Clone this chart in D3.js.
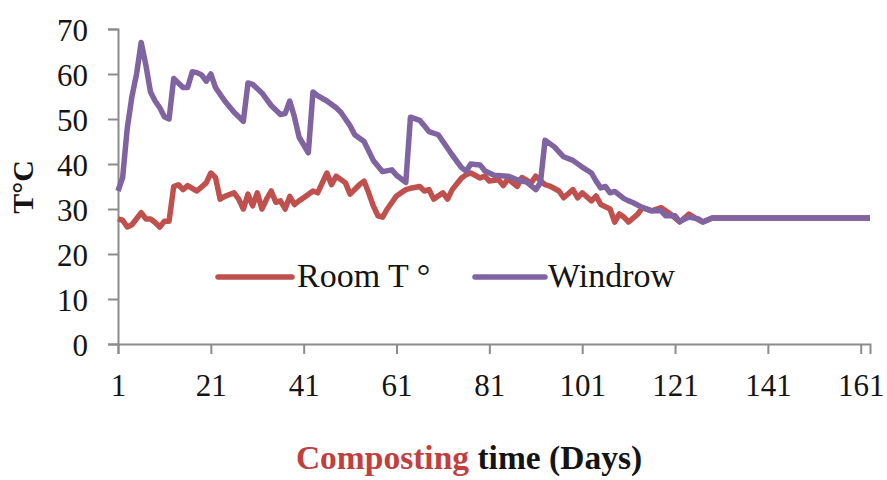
<!DOCTYPE html>
<html>
<head>
<meta charset="utf-8">
<script src="https://cdn.jsdelivr.net/npm/d3@7"></script>
<style>
  html, body { margin: 0; padding: 0; background: #fff; }
  svg text { font-family: "Liberation Serif", "Times New Roman", serif !important; }
</style>
</head>
<body>
<svg id="chart" width="887" height="480"></svg>
<script>
// Windrow pile temperature (°C) by composting day
const windrowDay = [1,2,3,4,5,6,7,8,9,10,11,12,13,14,15,16,17,18,19,20,21,22,24,26,28,29,30,32,34,36,37,38,39,40,42,43,44,46,48,49,51,52,54,56,58,60,61,63,64,66,67,68,70,71,73,75,76,77,79,80,82,85,87,89,91,92,93,95,97,99,101,103,104,105,106,107,108,110,111,112,114,116,118,119,121,122,124,126,127,129,163];
const windrowTemp = [34,37,48,55,60,67,62,56,54,52.5,50.5,50,59,58,57,57,60.5,60.3,59.8,58.4,60,57,54,51.5,49.5,58,57.7,55.8,53,51,51.2,54,50.5,46,42.5,56,55.2,54,52.5,51.5,48.5,46.5,45,40.8,38.3,38.7,37.5,35.9,50.4,49.7,48.5,47.2,46.5,45,42,39.2,38.4,40,39.8,38.5,37.5,37.3,36.5,36,34.3,35.8,45.3,43.8,41.6,40.8,39.3,38,36.2,34.7,35,33.6,33.9,32.3,31.8,31.4,30.3,29.6,29.6,28.5,28.5,27.2,28.2,27.8,27.1,28,28];

// Room temperature (°C) by composting day
const roomDay = [1,2,3,4,6,7,8,9,10,11,12,13,14,15,16,17,18,20,21,22,23,24,26,27,28,29,30,31,32,33,34,35,36,37,38,39,40,41,43,44,46,47,48,50,51,53,54,55,56,57,58,59,61,63,64,66,67,68,69,71,72,73,75,76,77,79,80,81,83,84,85,87,88,90,91,93,94,96,97,99,100,101,103,104,105,107,108,109,110,111,113,114,116,118,120,122,124,125,127,129,163];
const roomTemp = [27.8,27.5,26,26.5,29.2,27.8,27.8,27,26,27.3,27.3,35,35.4,34.3,35.2,34.6,34,35.8,38,37,32.2,32.8,33.6,32.2,30,33.3,30.7,33.6,30,32.2,34,31.5,31.8,30,32.8,31,31.8,32.5,34,33.6,38,35.4,37.3,35.8,33.3,35.4,36.2,33.6,30.7,28.5,28.2,30,32.9,34.3,34.6,35,34,34.3,32.2,33.6,32.2,34.3,36.9,37.6,38,36.9,37.3,36.2,36.5,35.2,36.7,35,37,35.8,37.3,35.4,35.1,34,32.5,34.3,32.5,33.6,31.8,32.9,31,30,27.1,28.9,28.2,27.1,28.9,30.3,29.6,30.3,28.9,27.1,28.9,28.2,27.1,28,28];

const xTicks = [1,21,41,61,81,101,121,141,161];
const yTicks = [0,10,20,30,40,50,60,70];

const seriesNames = ["Room T °", "Windrow"];
const seriesColors = ["#c0504d", "#8064a2"];

const svg = d3.select("#chart");
const W = 887, H = 480;
const margin = { left: 118, right: 17, top: 29, bottom: 136 };

const x = d3.scaleLinear().domain([1, 163]).range([margin.left, W - margin.right]);
const y = d3.scaleLinear().domain([0, 70]).range([H - margin.bottom, margin.top]);

const axisColor = "#8c8c8c";
const textColor = "#141414";

// Y axis
const yAxis = svg.append("g")
  .attr("transform", `translate(${margin.left},0)`)
  .call(d3.axisLeft(y).tickValues(yTicks).tickSize(10).tickPadding(20).tickFormat(d3.format("d")));
yAxis.select(".domain").attr("stroke", axisColor).attr("stroke-width", 2);
yAxis.selectAll(".tick line").attr("stroke", axisColor).attr("stroke-width", 2);
yAxis.selectAll(".tick text").attr("font-size", 31).attr("fill", textColor).attr("dy", "0.36em");

// X axis
const xAxis = svg.append("g")
  .attr("transform", `translate(0,${y(0)})`)
  .call(d3.axisBottom(x).tickValues(xTicks).tickSize(10).tickPadding(20).tickFormat(d3.format("d")));
xAxis.select(".domain").attr("stroke", axisColor).attr("stroke-width", 2);
xAxis.selectAll(".tick line").attr("stroke", axisColor).attr("stroke-width", 2);
xAxis.selectAll(".tick text").attr("font-size", 31).attr("fill", textColor);

// Temperature lines (room first, windrow drawn over it)
const line = d3.line().x(d => x(d[0])).y(d => y(d[1])).curve(d3.curveLinear);
const roomPts = roomDay.map((d, i) => [d, roomTemp[i]]);
const windrowPts = windrowDay.map((d, i) => [d, windrowTemp[i]]);

[roomPts, windrowPts].forEach((pts, i) => {
  svg.append("path")
    .datum(pts)
    .attr("fill", "none")
    .attr("stroke", seriesColors[i])
    .attr("stroke-width", 5.5)
    .attr("stroke-linejoin", "round")
    .attr("d", line);
});

// Legend
const legend = svg.append("g");
const legendItems = [
  { x0: 218, x1: 292, tx: 297 },
  { x0: 475, x1: 545, tx: 548 }
];
legendItems.forEach((it, i) => {
  legend.append("line")
    .attr("x1", it.x0).attr("x2", it.x1)
    .attr("y1", 277).attr("y2", 277)
    .attr("stroke", seriesColors[i]).attr("stroke-width", 5.5)
    .attr("stroke-linecap", "round");
  legend.append("text")
    .attr("x", it.tx).attr("y", 287)
    .attr("font-size", 34).attr("fill", textColor)
    .text(seriesNames[i]);
});

// Y axis title
svg.append("text")
  .attr("transform", "translate(33,187) rotate(-90)")
  .attr("text-anchor", "middle")
  .attr("font-size", 30).attr("font-weight", "bold").attr("fill", textColor)
  .text("T°C");

// X axis title
const xt = svg.append("text")
  .attr("x", 469).attr("y", 469)
  .attr("text-anchor", "middle")
  .attr("font-size", 33.5).attr("font-weight", "bold");
xt.append("tspan").attr("fill", "#c0403f").text("Composting");
xt.append("tspan").attr("fill", textColor).text(" time (Days)");
</script>
</body>
</html>
